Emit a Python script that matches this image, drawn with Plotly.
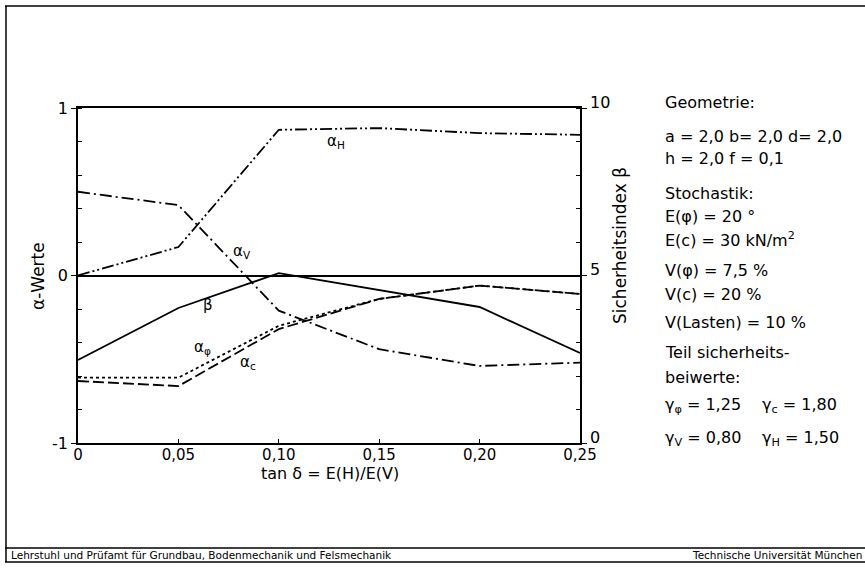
import plotly.graph_objects as go

# --- data -------------------------------------------------------------
tan_delta = [0.00, 0.05, 0.10, 0.15, 0.20, 0.25]

alpha_H = [0.00, 0.17, 0.87, 0.88, 0.85, 0.84]
alpha_V = [0.50, 0.42, -0.21, -0.44, -0.54, -0.52]
alpha_phi = [-0.61, -0.61, -0.30, -0.14, -0.06, -0.11]
alpha_c = [-0.63, -0.66, -0.32, -0.14, -0.06, -0.11]
beta = [2.48, 4.03, 5.07, 4.57, 4.06, 2.69]

x_ticks = [0.00, 0.05, 0.10, 0.15, 0.20, 0.25]
x_ticktext = ["0", "0,05", "0,10", "0,15", "0,20", "0,25"]
alpha_ticks = [-1, 0, 1]
alpha_ticktext = ["-1", "0", "1"]
beta_ticks = [0, 5, 10]
beta_ticktext = ["0", "5", "10"]

info_lines = [
    ("Geometrie:", 103),
    ("a = 2,0 b= 2,0 d= 2,0", 136),
    ("h = 2,0 f = 0,1", 158),
    ("Stochastik:", 193),
    ("E(φ) = 20 °", 216),
    ("E(c) = 30 kN/m<sup>2</sup>", 239),
    ("V(φ) = 7,5 %", 270),
    ("V(c) = 20 %", 294),
    ("V(Lasten) = 10 %", 322),
    ("Teil sicherheits-", 352),
    ("beiwerte:", 377),
]
gamma_lines = [
    ("γ<sub>φ</sub> = 1,25", "γ<sub>c</sub> = 1,80", 405),
    ("γ<sub>V</sub> = 0,80", "γ<sub>H</sub> = 1,50", 438),
]

FONT = "DejaVu Sans"
W, H = 865, 572
L, R, T, B = 78, 580, 108, 443  # plot area in pixels


def px(x):
    return (x - L) / (R - L)


def py(y):
    return (B - y) / (B - T)


def label(text, x, y, size, xanchor="center", angle=0):
    return dict(text=text, x=px(x), y=py(y), xref="paper", yref="paper",
                xanchor=xanchor, yanchor="middle", textangle=angle, showarrow=False,
                font=dict(size=size, family=FONT, color="black"))


fig = go.Figure()

line_style = dict(color="black", width=1.8)
fig.add_trace(go.Scatter(x=tan_delta, y=alpha_H, mode="lines",
                         line=dict(**line_style, dash="12px,3px,2px,3px,2px,3px")))
fig.add_trace(go.Scatter(x=tan_delta, y=alpha_V, mode="lines",
                         line=dict(**line_style, dash="12px,4px,2px,4px")))
fig.add_trace(go.Scatter(x=tan_delta, y=alpha_phi, mode="lines",
                         line=dict(**line_style, dash="3px,3px")))
fig.add_trace(go.Scatter(x=tan_delta, y=alpha_c, mode="lines",
                         line=dict(**line_style, dash="11px,4px")))
fig.add_trace(go.Scatter(x=tan_delta, y=beta, mode="lines", yaxis="y2",
                         line=dict(**line_style)))

annotations = []

# curve labels
for txt, x, y in [
    ("α<sub>H</sub>", 336, 141),
    ("α<sub>V</sub>", 242, 251),
    ("β", 208, 305),
    ("α<sub>φ</sub>", 202, 347),
    ("α<sub>c</sub>", 248, 362),
]:
    annotations.append(label(txt, x, y, 15))

# parameter block
for txt, y in info_lines:
    annotations.append(label(txt, 663, y, 16, xanchor="left"))
for left, right, y in gamma_lines:
    annotations.append(label(left, 663, y, 16, xanchor="left"))
    annotations.append(label(right, 760, y, 16, xanchor="left"))

# axis titles
annotations.append(label("α-Werte", 38, 276, 17, angle=-90))
annotations.append(label("Sicherheitsindex β", 620, 246, 17, angle=-90))
annotations.append(label("tan δ = E(H)/E(V)", 330, 473, 16))

# footer
annotations.append(label("Lehrstuhl und Prüfamt für Grundbau, Bodenmechanik und Felsmechanik",
                         9, 555, 10.5, xanchor="left"))
annotations.append(label("Technische Universität München", 690, 555, 10.5, xanchor="left"))

frame = dict(color="black", width=1.5)
shapes = [
    dict(type="line", xref="paper", yref="paper", x0=px(5), x1=px(866), y0=py(6), y1=py(6), line=frame),
    dict(type="line", xref="paper", yref="paper", x0=px(6), x1=px(6), y0=py(6), y1=py(562), line=frame),
    dict(type="line", xref="paper", yref="paper", x0=px(5), x1=px(866), y0=py(548), y1=py(548), line=frame),
    dict(type="line", xref="paper", yref="paper", x0=px(5), x1=px(866), y0=py(562), y1=py(562), line=frame),
]

axis_common = dict(showgrid=False, showline=True, linecolor="black", linewidth=1.6,
                   tickcolor="black", tickfont=dict(size=16, family=FONT, color="black"))

fig.update_layout(
    width=W, height=H,
    margin=dict(l=L, r=W - R, t=T, b=H - B),
    paper_bgcolor="white", plot_bgcolor="white",
    showlegend=False,
    font=dict(family=FONT, color="black"),
    xaxis=dict(**axis_common, range=[0, 0.25], tickvals=x_ticks, ticktext=x_ticktext,
               ticks="inside", ticklen=4, mirror=True, zeroline=False,
               ticklabelstandoff=-3),
    yaxis=dict(**axis_common, range=[-1, 1], tickvals=alpha_ticks, ticktext=alpha_ticktext,
               ticks="outside", ticklen=5, zeroline=True, zerolinecolor="black",
               zerolinewidth=1.6,
               minor=dict(dtick=0.2, ticks="inside", ticklen=4, tickcolor="black")),
    yaxis2=dict(**axis_common, range=[0, 10], tickvals=beta_ticks, ticktext=beta_ticktext,
                overlaying="y", side="right", ticks="outside", ticklen=5, zeroline=False,
                ticklabelshift=-6,
                minor=dict(dtick=1, ticks="inside", ticklen=4, tickcolor="black")),
    annotations=annotations,
    shapes=shapes,
)
fig.update_xaxes(tickfont_size=15)

fig.write_html("out.html")
